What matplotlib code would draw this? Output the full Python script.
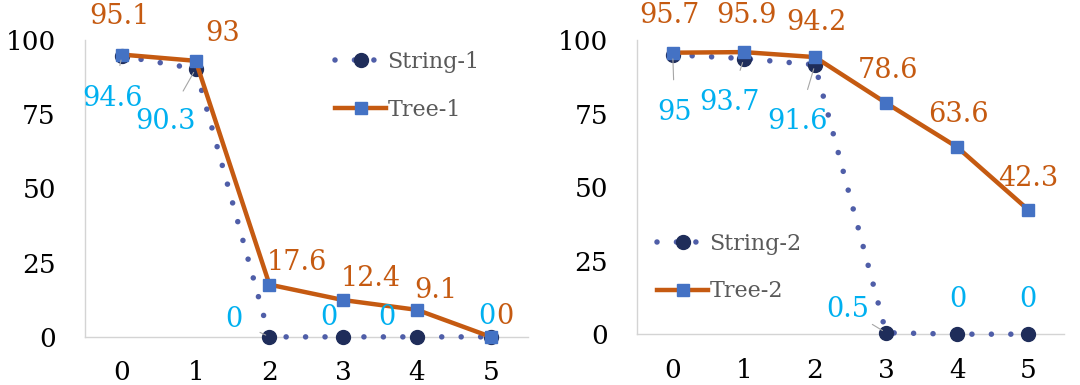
import matplotlib.pyplot as plt

plt.rcParams['font.family'] = ['DejaVu Serif']

# Data
steps = [0, 1, 2, 3, 4, 5]
string1 = [94.6, 90.3, 0, 0, 0, 0]
tree1 = [95.1, 93, 17.6, 12.4, 9.1, 0]
string2 = [95, 93.7, 91.6, 0.5, 0, 0]
tree2 = [95.7, 95.9, 94.2, 78.6, 63.6, 42.3]

# label offsets in pixels (dx, dy) relative to the point
tree1_off = [(-2, 38), (27, 27), (27, 22), (27, 22), (19, 19), (14, 20)]
string1_off = [(-9, -42), (-30, -53), (-36, 17), (-14, 19), (-30, 19), (-4, 20)]
tree2_off = [(-3, 37), (3, 37), (1, 35), (2, 32), (1, 33), (0, 31)]
string2_off = [(2, -58), (-14, -44), (-17, -57), (-38, 23), (1, 35), (0, 35)]
string1_leader = [True, True, True, False, False, False]
string2_leader = [True, True, True, True, False, False]

orange = '#C55A11'
cyan = '#00B0F0'
navy = '#1F2D5A'
dotblue = '#4F5EA8'
sqblue = '#4472C4'


def panel(ax, s, t, s_off, t_off, leaders, s_name, t_name, loc, anchor):
    ax.plot(steps, s, color=dotblue, lw=4, linestyle=(0, (0.001, 3.5)),
            dash_capstyle='round', marker='o', ms=10, mfc=navy, mec=navy,
            label=s_name, zorder=3)
    ax.plot(steps, t, color=orange, lw=3.2, marker='s', ms=8.5,
            mfc=sqblue, mec=sqblue, label=t_name, zorder=4)
    for x, y, (dx, dy) in zip(steps, t, t_off):
        ax.annotate(f'{y:g}', (x, y), xytext=(dx, dy), textcoords='offset pixels',
                    ha='center', va='center', color=orange, fontsize=19.5, zorder=6)
    for x, y, (dx, dy), ld in zip(steps, s, s_off, leaders):
        props = dict(arrowstyle='-', color='#A6A6A6', lw=0.8, shrinkA=12, shrinkB=3) if ld else None
        ax.annotate(f'{y:g}', (x, y), xytext=(dx, dy), textcoords='offset pixels',
                    ha='center', va='center', color=cyan, fontsize=19.5,
                    arrowprops=props, zorder=6)
    ax.set_xlim(-0.5, 5.5)
    ax.set_ylim(0, 100)
    ax.set_xticks(steps)
    ax.set_yticks([0, 25, 50, 75, 100])
    ax.tick_params(length=0, labelsize=19, labelcolor='black')
    ax.xaxis.set_tick_params(pad=17)
    ax.yaxis.set_tick_params(pad=21)
    for sp in ['top', 'right']:
        ax.spines[sp].set_visible(False)
    for sp in ['left', 'bottom']:
        ax.spines[sp].set_color('#D4D4D4')
        ax.spines[sp].set_linewidth(1)
    leg = ax.legend(loc=loc, bbox_to_anchor=anchor, frameon=False, fontsize=16,
                    handlelength=2.3, handletextpad=0.05, labelspacing=1.15,
                    labelcolor='#595959')
    leg.set_zorder(7)
    for ln in ax.lines:
        ln.set_clip_on(False)


fig = plt.figure(figsize=(10.8, 3.85), dpi=100)
ax1 = fig.add_axes([0.0787, 0.125, 0.41, 0.771])
ax2 = fig.add_axes([0.590, 0.132, 0.395, 0.764])

panel(ax1, string1, tree1, string1_off, tree1_off, string1_leader,
      'String-1', 'Tree-1', 'upper left', (0.52, 1.03))
panel(ax2, string2, tree2, string2_off, tree2_off, string2_leader,
      'String-2', 'Tree-2', 'lower left', (0.0, 0.04))

fig.savefig('out.png', dpi=100)
